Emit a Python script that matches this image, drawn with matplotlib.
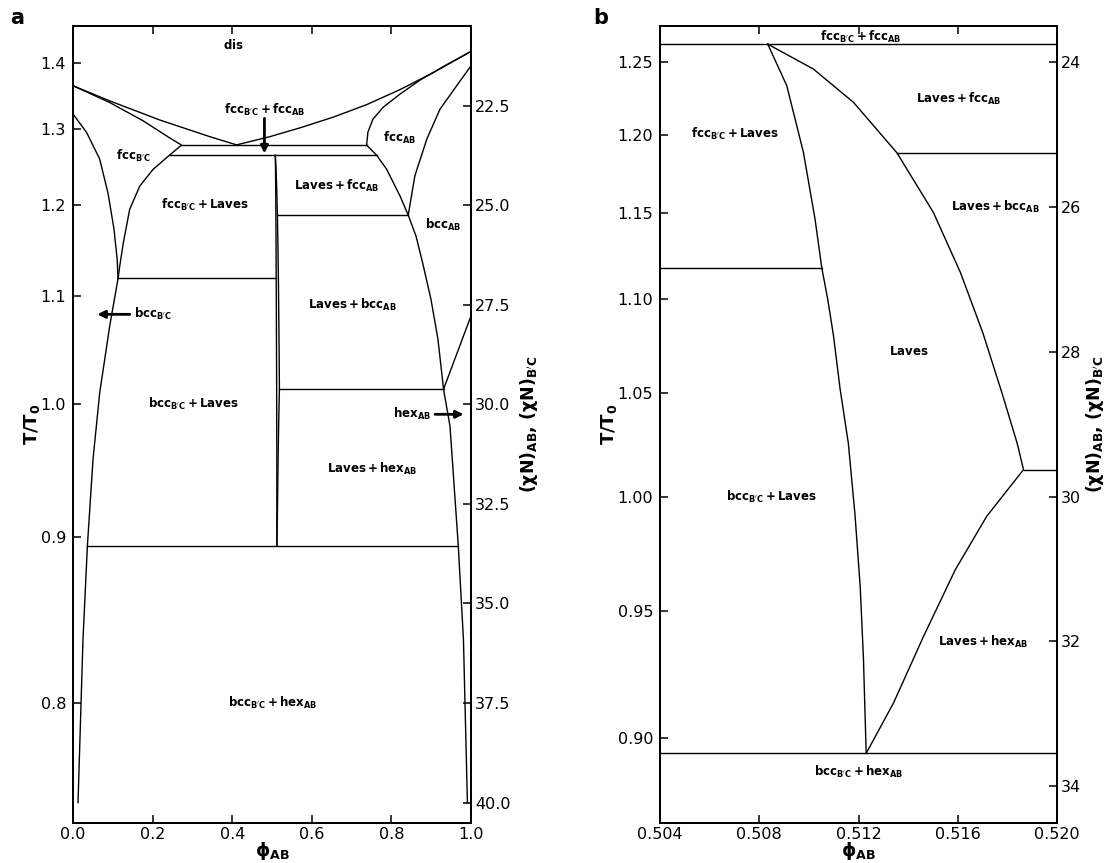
import numpy as np
import matplotlib
matplotlib.use("Agg")
import matplotlib.pyplot as plt

# ---------------- data (phi_AB, chiN) ----------------
# order-disorder boundary (upper curve)
dis_phi = [0.0, 0.092, 0.218, 0.344, 0.411, 0.4946, 0.5701, 0.6538, 0.7377, 0.8215, 0.9052, 1.0]
dis_chi = [22.0, 22.38, 22.86, 23.28, 23.485, 23.279, 23.058, 22.789, 22.475, 22.098, 21.671, 21.138]

# fcc_B'C boundary (upper left lens + fcc_B'C / fcc_B'C+Laves)
fccBC_phi = [0.0, 0.092, 0.176, 0.243, 0.2726, 0.243, 0.2012, 0.1677, 0.1425, 0.1265, 0.1174, 0.1132]
fccBC_chi = [22.0, 22.42, 22.88, 23.31, 23.49, 23.74, 24.10, 24.52, 25.10, 25.94, 26.53, 26.84]

# fcc_B'C / bcc_B'C boundary
fccbccBC_phi = [0.0, 0.034, 0.067, 0.088, 0.103, 0.111, 0.1132]
fccbccBC_chi = [22.71, 23.17, 23.84, 24.70, 25.60, 26.36, 26.84]

# bcc_B'C / bcc_B'C+Laves boundary
bccBC_phi = [0.1132, 0.0923, 0.0671, 0.0503, 0.0362, 0.0251, 0.0126]
bccBC_chi = [26.84, 28.03, 29.71, 31.38, 33.545, 35.9, 40.0]

# fcc_AB boundary (upper right lens + fcc_AB / Laves+fcc_AB)
fccAB_phi = [1.0, 0.9346, 0.8718, 0.8215, 0.7795, 0.7536, 0.7410, 0.7377, 0.7629, 0.788, 0.8215, 0.8423]
fccAB_chi = [21.138, 21.495, 21.859, 22.211, 22.538, 22.839, 23.166, 23.492, 23.744, 24.095, 24.766, 25.25]

# fcc_AB / bcc_AB boundary
fccbccAB_phi = [1.0, 0.964, 0.922, 0.889, 0.859, 0.8423]
fccbccAB_chi = [21.50, 22.0, 22.59, 23.34, 24.26, 25.25]

# bcc_AB (and hex_AB) / Laves two-phase boundary
bccAB_phi = [0.8423, 0.8617, 0.8793, 0.8994, 0.9170, 0.931, 0.9472, 0.968, 0.981, 0.991]
bccAB_chi = [25.25, 25.771, 26.482, 27.362, 28.367, 29.62, 30.545, 33.545, 35.9, 40.0]

# bcc_AB / hex_AB boundary
hexAB_phi = [0.931, 1.0]
hexAB_chi = [29.62, 27.78]

# Laves phase boundaries
lavesL_phi = [0.50834, 0.50871, 0.50911, 0.50978, 0.51025, 0.51052, 0.51076, 0.51099, 0.51126,
              0.51159, 0.51186, 0.51207, 0.51220, 0.51231]
lavesL_chi = [23.75, 24.025, 24.325, 25.246, 26.17, 26.84, 27.275, 27.772, 28.517,
              29.261, 30.254, 31.248, 32.241, 33.545]
lavesR_phi = [0.50834, 0.51018, 0.51180, 0.51355, 0.51502, 0.51611, 0.51701, 0.51778, 0.51839,
              0.51865, 0.51717, 0.51590, 0.51462, 0.51341, 0.51231]
lavesR_chi = [23.75, 24.094, 24.555, 25.252, 26.076, 26.906, 27.736, 28.566, 29.257,
              29.627, 30.27, 31.01, 31.93, 32.85, 33.545]

# three-phase (horizontal) lines: chiN, phi start, phi end
tie_chi = [23.49, 23.75, 25.25, 26.84, 29.627, 33.545]
tie_start = [0.2726, 0.243, 0.51355, 0.1132, 0.51865, 0.0362]
tie_end = [0.7377, 0.7629, 0.8423, 0.51052, 0.931, 0.968]

# axis ticks
a_T_ticks = [1.4, 1.3, 1.2, 1.1, 1.0, 0.9, 0.8]
a_chi_ticks = [22.5, 25.0, 27.5, 30.0, 32.5, 35.0, 37.5, 40.0]
a_phi_ticks = [0.0, 0.2, 0.4, 0.6, 0.8, 1.0]
b_T_ticks = [1.25, 1.20, 1.15, 1.10, 1.05, 1.00, 0.95, 0.90]
b_chi_ticks = [24, 26, 28, 30, 32, 34]
b_phi_ticks = [0.504, 0.508, 0.512, 0.516, 0.520]
chiN0 = 30.0  # chiN at T/T0 = 1

# labels (text, phi, chiN)
a_labels = [
    (r"$\mathbf{dis}$", 0.403, 20.98),
    (r"$\mathbf{fcc_{B'C} + fcc_{AB}}$", 0.481, 22.61),
    (r"$\mathbf{fcc_{B'C}}$", 0.1526, 23.76),
    (r"$\mathbf{fcc_{AB}}$", 0.8215, 23.30),
    (r"$\mathbf{Laves + fcc_{AB}}$", 0.663, 24.51),
    (r"$\mathbf{fcc_{B'C} + Laves}$", 0.331, 25.0),
    (r"$\mathbf{bcc_{AB}}$", 0.931, 25.50),
    (r"$\mathbf{Laves + bcc_{AB}}$", 0.702, 27.51),
    (r"$\mathbf{bcc_{B'C}}$", 0.202, 27.74),
    (r"$\mathbf{bcc_{B'C} + Laves}$", 0.3025, 30.0),
    (r"$\mathbf{hex_{AB}}$", 0.8515, 30.25),
    (r"$\mathbf{Laves + hex_{AB}}$", 0.751, 31.63),
    (r"$\mathbf{bcc_{B'C} + hex_{AB}}$", 0.502, 37.5),
]
# arrows (tail phi, tail chi, tip phi, tip chi)
a_arrows = [
    (0.481, 22.82, 0.481, 23.70),
    (0.1426, 27.74, 0.0611, 27.74),
    (0.9095, 30.25, 0.9814, 30.25),
]
b_labels = [
    (r"$\mathbf{fcc_{B'C} + fcc_{AB}}$", 0.51207, 23.656),
    (r"$\mathbf{Laves + fcc_{AB}}$", 0.51603, 24.51),
    (r"$\mathbf{fcc_{B'C} + Laves}$", 0.50700, 24.99),
    (r"$\mathbf{Laves + bcc_{AB}}$", 0.51753, 26.0),
    (r"$\mathbf{Laves}$", 0.51401, 28.0),
    (r"$\mathbf{bcc_{B'C} + Laves}$", 0.50850, 30.0),
    (r"$\mathbf{Laves + hex_{AB}}$", 0.51704, 32.0),
    (r"$\mathbf{bcc_{B'C} + hex_{AB}}$", 0.51200, 33.8),
]

# ---------------- drawing ----------------
W, H = 1106, 863
fig = plt.figure(figsize=(W / 100, H / 100), dpi=100)
LW = 1.0
TICK_FS = 11.5
LBL_FS = 8.5


def draw_boundaries(ax):
    curves = [(dis_phi, dis_chi), (fccBC_phi, fccBC_chi), (fccbccBC_phi, fccbccBC_chi),
              (bccBC_phi, bccBC_chi), (fccAB_phi, fccAB_chi), (fccbccAB_phi, fccbccAB_chi),
              (bccAB_phi, bccAB_chi), (hexAB_phi, hexAB_chi),
              (lavesL_phi, lavesL_chi), (lavesR_phi, lavesR_chi)]
    for px, cy in curves:
        ax.plot(px, cy, color="black", lw=LW, solid_joinstyle="round")
    for c, s, e in zip(tie_chi, tie_start, tie_end):
        ax.plot([s, e], [c, c], color="black", lw=LW)


def style_axes(ax, twin, xlim, ylim, xticks, xticklabels, Tticks, Tlabels, chiticks, chilabels,
               rpad):
    ax.set_xlim(*xlim)
    ax.set_ylim(*ylim)
    twin.set_ylim(*ylim)
    ax.set_xticks(xticks)
    ax.set_xticklabels(xticklabels)
    ax.set_yticks([chiN0 / t for t in Tticks])
    ax.set_yticklabels(Tlabels)
    twin.set_yticks(chiticks)
    twin.set_yticklabels(chilabels)
    for a in (ax, twin):
        for sp in a.spines.values():
            sp.set_linewidth(1.3)
    ax.tick_params(axis="x", direction="in", length=6, width=1.1, labelsize=TICK_FS,
                   top=True, pad=3)
    ax.tick_params(axis="y", direction="in", length=6, width=1.1, labelsize=TICK_FS,
                   right=False, pad=5)
    twin.tick_params(axis="y", direction="in", length=6, width=1.1, labelsize=TICK_FS, pad=3)
    ax.set_xlabel(r"$\mathbf{\phi_{AB}}$", fontsize=13, labelpad=-1)
    ax.set_ylabel(r"$\mathbf{T/T_0}$", fontsize=13, labelpad=-1)
    twin.set_ylabel(r"$\mathbf{(\chi N)_{AB},\,(\chi N)_{B'C}}$", fontsize=12.5, labelpad=rpad)


axa = fig.add_axes([73 / W, (H - 822.5) / H, 398 / W, 796.5 / H])
twa = axa.twinx()
draw_boundaries(axa)
style_axes(axa, twa, (0.0, 1.0), (40.5, 20.5), a_phi_ticks, [f"{v:.1f}" for v in a_phi_ticks],
           a_T_ticks, [f"{v:.1f}" for v in a_T_ticks], a_chi_ticks, [f"{v:.1f}" for v in a_chi_ticks],
           5)
for txt, x, y in a_labels:
    axa.text(x, y, txt, ha="center", va="center", fontsize=LBL_FS)
for x0, y0, x1, y1 in a_arrows:
    axa.annotate("", xy=(x1, y1), xytext=(x0, y0),
                 arrowprops=dict(arrowstyle="-|>", color="black", lw=2.0, mutation_scale=11,
                                 shrinkA=0, shrinkB=0))

axb = fig.add_axes([660 / W, (H - 822.5) / H, 397 / W, 796.5 / H])
twb = axb.twinx()
draw_boundaries(axb)
style_axes(axb, twb, (0.504, 0.520), (34.5, 23.5), b_phi_ticks, [f"{v:.3f}" for v in b_phi_ticks],
           b_T_ticks, [f"{v:.2f}" for v in b_T_ticks], b_chi_ticks, [str(v) for v in b_chi_ticks],
           2)
for txt, x, y in b_labels:
    axb.text(x, y, txt, ha="center", va="center", fontsize=LBL_FS)

fig.text(10 / W, 1 - 18 / H, "a", fontsize=15, fontweight="bold", ha="left", va="center")
fig.text(593 / W, 1 - 18 / H, "b", fontsize=15, fontweight="bold", ha="left", va="center")

fig.savefig("out.png", dpi=100)
